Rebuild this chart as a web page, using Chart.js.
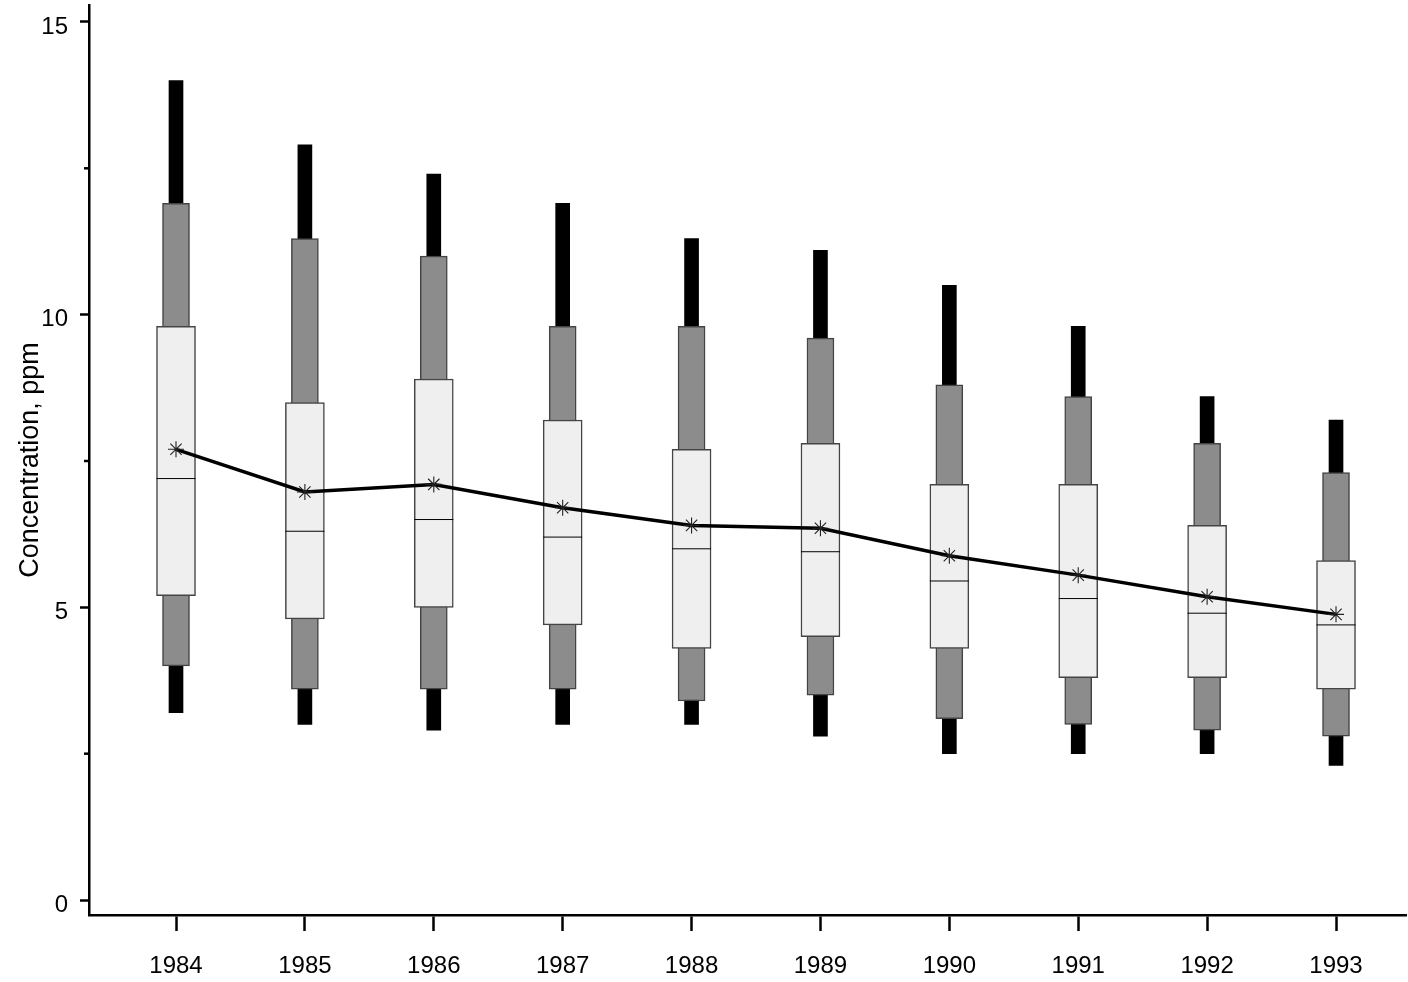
<!DOCTYPE html>
<html>
<head>
<meta charset="utf-8">
<script src="https://cdn.jsdelivr.net/npm/chart.js@4"></script>
<style>
  html, body { margin: 0; padding: 0; background: #fff; }
  #wrap { width: 1408px; height: 982px; }
</style>
</head>
<body>
<div id="wrap"><canvas id="myChart"></canvas></div>
<script>
// yearly concentration percentiles (ppm)
const years = [1984, 1985, 1986, 1987, 1988, 1989, 1990, 1991, 1992, 1993];
const p5  = [3.2, 3.0, 2.9, 3.0, 3.0, 2.8, 2.5, 2.5, 2.5, 2.3];
const p10 = [4.0, 3.6, 3.6, 3.6, 3.4, 3.5, 3.1, 3.0, 2.9, 2.8];
const p25 = [5.2, 4.8, 5.0, 4.7, 4.3, 4.5, 4.3, 3.8, 3.8, 3.6];
const p50 = [7.2, 6.3, 6.5, 6.2, 6.0, 5.95, 5.45, 5.15, 4.9, 4.7];
const p75 = [9.8, 8.5, 8.9, 8.2, 7.7, 7.8, 7.1, 7.1, 6.4, 5.8];
const p90 = [11.9, 11.3, 11.0, 9.8, 9.8, 9.6, 8.8, 8.6, 7.8, 7.3];
const p95 = [14.0, 12.9, 12.4, 11.9, 11.3, 11.1, 10.5, 9.8, 8.6, 8.2];
const means = [7.7, 6.97, 7.1, 6.7, 6.4, 6.35, 5.88, 5.55, 5.18, 4.88];
const yTicks = [0, 2.5, 5, 7.5, 10, 12.5, 15];

const range = (lo, hi) => years.map((yr, i) => ({ x: yr, y: [lo[i], hi[i]] }));
const points = vals => years.map((yr, i) => ({ x: yr, y: vals[i] }));

// short ticks at the half-way values on the y axis
const minorTicks = {
    id: 'minorTicks',
    afterDraw(chart) {
        const s = chart.scales.y;
        const ctx = chart.ctx;
        ctx.save();
        ctx.strokeStyle = '#000';
        ctx.lineWidth = 2.5;
        s.ticks.forEach(t => {
            if (t.value % 5 !== 0) {
                const py = s.getPixelForValue(t.value);
                ctx.beginPath();
                ctx.moveTo(s.right - 5, py);
                ctx.lineTo(s.right, py);
                ctx.stroke();
            }
        });
        ctx.restore();
    }
};

Chart.defaults.font.family = "'Liberation Sans', Arial, sans-serif";
Chart.defaults.color = '#000';

const ctx = document.getElementById('myChart').getContext('2d');
new Chart(ctx, {
    type: 'bar',
    data: {
        datasets: [
            {
                type: 'line',
                data: points(means),
                borderColor: '#000',
                borderWidth: 3.5,
                tension: 0,
                pointStyle: 'star',
                pointRadius: 8,
                pointBorderColor: '#222',
                pointBorderWidth: 1.1,
                pointBackgroundColor: '#222',
            },
            {
                type: 'line',
                data: points(p50),
                showLine: false,
                pointStyle: 'line',
                pointRadius: 19.5,
                pointBorderColor: '#000',
                pointBorderWidth: 1,
            },
            {
                data: range(p25, p75),
                grouped: false,
                barThickness: 39,
                backgroundColor: '#efefef',
                borderColor: '#444',
                borderWidth: 1.5,
                borderSkipped: false,
            },
            {
                data: range(p10, p90),
                grouped: false,
                barThickness: 27,
                backgroundColor: '#8c8c8c',
                borderColor: '#444',
                borderWidth: 1.5,
                borderSkipped: false,
            },
            {
                data: range(p5, p95),
                grouped: false,
                barThickness: 14,
                backgroundColor: '#000',
                borderWidth: 0,
            },
        ]
    },
    options: {
        responsive: true,
        maintainAspectRatio: false,
        animation: false,
        events: [],
        layout: { autoPadding: false, padding: { top: 5, right: 2, left: 0, bottom: 0 } },
        plugins: {
            legend: { display: false },
            tooltip: { enabled: false },
        },
        scales: {
            x: {
                type: 'linear',
                offset: false,
                min: 1983.325,
                max: 1993.543,
                afterBuildTicks: s => { s.ticks = years.map(v => ({ value: v })); },
                afterFit: s => { s.height = 67; s.paddingLeft = 0; s.paddingRight = 0; },
                grid: { offset: false, drawOnChartArea: false, tickLength: 16, tickWidth: 2.5, tickColor: '#000' },
                border: { color: '#000', width: 2.5 },
                ticks: { font: { size: 24 }, padding: 21, maxRotation: 0, callback: v => String(v) },
            },
            y: {
                min: -0.256,
                max: 15.29,
                afterBuildTicks: s => { s.ticks = yTicks.map(v => ({ value: v })); },
                afterFit: s => { s.width = 89; s.paddingTop = 0; s.paddingBottom = 0; },
                grid: {
                    drawOnChartArea: false,
                    tickLength: 9,
                    tickWidth: 2.5,
                    tickColor: c => (c.tick && c.tick.value % 5 === 0) ? '#000' : 'rgba(0,0,0,0)',
                },
                border: { color: '#000', width: 2.5 },
                ticks: {
                    font: { size: 24 },
                    padding: 12,
                    labelOffset: 5,
                    callback: v => (v % 5 === 0 ? String(v) : ''),
                },
                title: {
                    display: true,
                    text: 'Concentration, ppm',
                    font: { size: 27 },
                    padding: { top: 14, bottom: 0 },
                },
            },
        },
    },
    plugins: [minorTicks],
});
</script>
</body>
</html>
